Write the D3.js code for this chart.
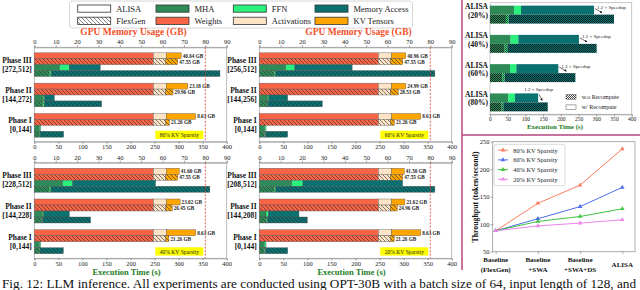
<!DOCTYPE html>
<html>
<head>
<meta charset="utf-8">
<script src="https://cdn.jsdelivr.net/npm/d3@7"></script>
<style>
  body { margin: 0; background: #fff; }
</style>
</head>
<body>
<div id="chart"></div>
<script>
//Data
const phaseNames = ["Phase III", "Phase II", "Phase I"];
const sparsity = ["80%", "60%", "40%", "20%"];
const phaseRanges = [
    ["[272,512]", "[144,272]", "[0,144]"],
    ["[256,512]", "[144,256]", "[0,144]"],
    ["[228,512]", "[144,228]", "[0,144]"],
    ["[208,512]", "[144,208]", "[0,144]"],
];
const memKeys = ["Weights", "Activations", "KV Tensors"];
const timeKeys = ["MHA", "FFN", "Memory Access"];

// GPU memory (GB) per phase III, II, I : [weights, activations, kv tensors]
const alisaMem = [
    [[55.7, 6.1, 6.9], [55.7, 6.1, 10.0], [55.7, 6.1, 13.7]],
    [[55.7, 6.1, 6.7], [55.7, 6.1, 6.7], [55.7, 6.1, 13.7]],
    [[55.7, 6.1, 6.0], [55.7, 6.1, 6.4], [55.7, 6.1, 13.7]],
    [[55.7, 6.1, 6.0], [55.7, 6.1, 6.3], [55.7, 6.1, 13.7]],
];
const flexMem = [
    [[55.7, 5.8, 5.6], [55.7, 5.8, 3.4], [55.7, 5.8, 1.7]],
    [[55.7, 5.8, 5.6], [55.7, 5.8, 3.5], [55.7, 5.8, 1.7]],
    [[55.7, 5.8, 5.6], [55.7, 5.8, 3.0], [55.7, 5.8, 1.5]],
    [[55.7, 5.8, 5.6], [55.7, 5.8, 3.0], [55.7, 5.8, 1.6]],
];
// execution time (s) per phase III, II, I : [MHA, FFN, memory access]
const alisaTime = [
    [[52.6, 20, 64.4], [18.7, 2.9, 20], [10.4, 2.9, 0]],
    [[55, 19, 119], [17.4, 2.6, 39], [11, 3, 0]],
    [[59, 21, 172], [16.6, 2.9, 53.3], [10.4, 2.9, 0]],
    [[67.3, 23.5, 207.2], [14, 4.8, 63.7], [10.4, 3.6, 0]],
];
const flexTime = [
    [[31, 4, 351], [17.3, 3.5, 119.2], [10, 2, 49]],
    [[30.5, 3.5, 331], [16, 2, 113], [11, 2, 46]],
    [[30.5, 4.2, 330.3], [15.3, 2.1, 99.6], [9.8, 2, 48.5]],
    [[30.5, 3.5, 331], [14, 2.6, 83.2], [10.4, 2.1, 46.5]],
];
const alisaLabels = [
    ["40.64 GB", "23.18 GB", "8.63 GB"],
    ["40.96 GB", "24.99 GB", "8.63 GB"],
    ["41.60 GB", "23.02 GB", "8.63 GB"],
    ["41.50 GB", "21.62 GB", "8.63 GB"],
];
const flexLabels = [
    ["47.55 GB", "29.96 GB", "21.26 GB"],
    ["47.55 GB", "28.53 GB", "21.26 GB"],
    ["47.55 GB", "26.45 GB", "21.26 GB"],
    ["47.55 GB", "24.96 GB", "21.26 GB"],
];

// recompute study (s): [MHA, FFN, memory access]
const recompNames = ["20%", "40%", "60%", "80%"];
const withRecomp = [[67.7, 19.8, 206], [58.3, 21.7, 171], [56.4, 17.9, 118.7], [51.8, 18.8, 65.4]];
const withoutRecomp = [[45, 7.8, 297.2], [41.4, 7.6, 252], [34.8, 6.6, 199.6], [33, 4.6, 125.4]];
const speedups = ["1.2", "1.2", "1.3", "1.2"];

// throughput (token/second)
const stages = ["Baseline\n(FlexGen)", "Baseline\n+SWA", "Baseline\n+SWA+DS", "ALISA"];
const tp80 = [88, 138, 171, 237];
const tp60 = [88, 110, 132, 167];
const tp40 = [88, 105, 114, 128];
const tp20 = [88, 97, 102, 108];

//Styles
const serif = "'Liberation Serif', 'Times New Roman', serif";
const fillOf = {
    Weights: "#fa6446",
    Activations: "#fde4c6",
    "KV Tensors": "#ffa500",
    MHA: "#2e8b57",
    FFN: "#2af07c",
    "Memory Access": "#0b7070",
};

const svg = d3
    .select("#chart")
    .append("svg")
    .attr("width", 640)
    .attr("height", 290)
    .attr("font-family", serif);
const defs = svg.append("defs");

const hatch = (id, fill) => {
    const p = defs
        .append("pattern")
        .attr("id", id)
        .attr("patternUnits", "userSpaceOnUse")
        .attr("width", 4)
        .attr("height", 4);
    p.append("rect").attr("width", 4).attr("height", 4).attr("fill", fill);
    p.append("path")
        .attr("d", "M-1,-1L5,5M-1,3L1,5M3,-1L5,1")
        .attr("stroke", "#2a2a2a")
        .attr("stroke-width", 0.6);
    return `url(#${id})`;
};
const dots = (id, fill) => {
    const p = defs
        .append("pattern")
        .attr("id", id)
        .attr("patternUnits", "userSpaceOnUse")
        .attr("width", 2)
        .attr("height", 2);
    p.append("rect").attr("width", 2).attr("height", 2).attr("fill", fill);
    p.append("rect").attr("width", 1).attr("height", 1).attr("fill", "#111").attr("opacity", 0.8);
    p.append("rect").attr("x", 1).attr("y", 1).attr("width", 1).attr("height", 1).attr("fill", "#111").attr("opacity", 0.8);
    return `url(#${id})`;
};
const hatchOf = {};
const dotsOf = {};
Object.keys(fillOf).forEach((k, i) => {
    hatchOf[k] = hatch(`h${i}`, fillOf[k]);
    dotsOf[k] = dots(`d${i}`, fillOf[k]);
});
const hatchWhite = hatch("hw", "#fff");
const dotsWhite = dots("dw", "#fff");

defs.append("marker")
    .attr("id", "arr")
    .attr("viewBox", "0 0 6 6")
    .attr("refX", 5)
    .attr("refY", 3)
    .attr("markerWidth", 4)
    .attr("markerHeight", 4)
    .attr("orient", "auto")
    .append("path")
    .attr("d", "M0,0L6,3L0,6Z")
    .attr("fill", "#111");

const styleAxis = (sel, size) => {
    sel.select(".domain").attr("stroke", "#999").attr("stroke-width", 0.8);
    sel.selectAll(".tick line").attr("stroke", "#666").attr("stroke-width", 0.6);
    sel.selectAll("text").attr("font-size", size).attr("font-family", serif).attr("fill", "#222");
};

//Legend
const legend = svg.append("g");
legend.append("rect")
    .attr("x", 69.5).attr("y", 1).attr("width", 343).attr("height", 27)
    .attr("rx", 3).attr("fill", "#fff").attr("stroke", "#ccc").attr("stroke-width", 0.8);
const legendItems = [
    ["ALISA", "#fff"], ["FlexGen", hatchWhite],
    ["MHA", fillOf.MHA], ["Weights", fillOf.Weights],
    ["FFN", fillOf.FFN], ["Activations", fillOf.Activations],
    ["Memory Access", fillOf["Memory Access"]], ["KV Tensors", fillOf["KV Tensors"]],
];
const legendCols = [77.7, 156, 233.3, 315];
legendItems.forEach(([name, fill], i) => {
    const x = legendCols[Math.floor(i / 2)];
    const y = i % 2 === 0 ? 8.6 : 20.8;
    legend.append("rect")
        .attr("x", x).attr("y", y - 3.6).attr("width", 33).attr("height", 7.2)
        .attr("fill", fill).attr("stroke", "#333").attr("stroke-width", 0.8);
    legend.append("text")
        .attr("x", x + 38.5).attr("y", y)
        .attr("dominant-baseline", "central")
        .attr("font-size", 8.5).attr("fill", "#222")
        .text(name);
});

//Bar panels
const panels = [
    { x0: 34.3, x1: 226.7, y0: 47.3, y1: 141.7, top: true },
    { x0: 259.3, x1: 451.7, y0: 47.3, y1: 141.7, top: true },
    { x0: 34.3, x1: 226.7, y0: 162.7, y1: 258.3, top: false },
    { x0: 259.3, x1: 451.7, y0: 162.7, y1: 258.3, top: false },
];

panels.forEach((P, i) => {
    const g = svg.append("g");
    const xMem = d3.scaleLinear().domain([0, 90]).range([P.x0, P.x1]);
    const xTime = d3.scaleLinear().domain([0, 400]).range([P.x0, P.x1]);
    const yPhase = d3
        .scaleBand()
        .domain(phaseNames)
        .range([P.y0 + 2.5, P.y1 - 1.5])
        .paddingInner(0.22)
        .paddingOuter(0.1);
    const ySub = d3
        .scaleBand()
        .domain(["aMem", "fMem", "aTime", "fTime"])
        .range([0, yPhase.bandwidth()]);

    g.append("rect")
        .attr("x", P.x0).attr("y", P.y0)
        .attr("width", P.x1 - P.x0).attr("height", P.y1 - P.y0)
        .attr("fill", "none").attr("stroke", "#aaa").attr("stroke-width", 0.8);

    const topAxis = g.append("g")
        .attr("transform", `translate(0, ${P.y0})`)
        .call(d3.axisTop(xMem).tickValues(d3.range(0, 91, 10)).tickSize(2).tickPadding(1.2));
    styleAxis(topAxis, 6.5);
    const botAxis = g.append("g")
        .attr("transform", `translate(0, ${P.y1})`)
        .call(d3.axisBottom(xTime).tickValues(d3.range(0, 401, 50)).tickSize(2).tickPadding(1));
    styleAxis(botAxis, 6.5);

    // memory and time rows
    const memRows = [];
    const timeRows = [];
    phaseNames.forEach((ph, k) => {
        const a = {}, f = {}, at = {}, ft = {};
        memKeys.forEach((key, j) => {
            a[key] = alisaMem[i][k][j];
            f[key] = flexMem[i][k][j];
        });
        timeKeys.forEach((key, j) => {
            at[key] = alisaTime[i][k][j];
            ft[key] = flexTime[i][k][j];
        });
        memRows.push({ phase: ph, sub: "aMem", ...a }, { phase: ph, sub: "fMem", ...f });
        timeRows.push({ phase: ph, sub: "aTime", ...at }, { phase: ph, sub: "fTime", ...ft });
    });

    const drawStack = (rows, keys, x) => {
        d3.stack().keys(keys)(rows).forEach((series) => {
            g.selectAll(null)
                .data(series.filter((d) => d[1] > d[0]))
                .join("rect")
                .attr("x", (d) => x(d[0]))
                .attr("width", (d) => x(d[1]) - x(d[0]))
                .attr("y", (d) => yPhase(d.data.phase) + ySub(d.data.sub))
                .attr("height", ySub.bandwidth())
                .attr("fill", (d) => (d.data.sub[0] === "f" ? hatchOf[series.key] : fillOf[series.key]))
                .attr("stroke", "#555")
                .attr("stroke-width", 0.4);
        });
    };
    drawStack(memRows, memKeys, xMem);
    drawStack(timeRows, timeKeys, xTime);

    // value labels
    memRows.forEach((r, j) => {
        const k = Math.floor(j / 2);
        const total = d3.sum(memKeys, (key) => r[key]);
        g.append("text")
            .attr("x", xMem(total) + 1.5)
            .attr("y", yPhase(r.phase) + ySub(r.sub) + ySub.bandwidth() / 2)
            .attr("dominant-baseline", "central")
            .attr("font-size", 5.2)
            .attr("font-weight", "bold")
            .attr("fill", "#222")
            .text(r.sub === "aMem" ? alisaLabels[i][k] : flexLabels[i][k]);
    });

    // phase labels
    phaseNames.forEach((ph, k) => {
        const c = yPhase(ph) + yPhase.bandwidth() / 2;
        const t = g.append("text")
            .attr("text-anchor", "end")
            .attr("font-size", 7.5)
            .attr("font-weight", "bold")
            .attr("fill", "#111");
        t.append("tspan").attr("x", P.x0 - 2.6).attr("y", c - 2).text(ph);
        t.append("tspan").attr("x", P.x0 - 2.6).attr("y", c + 7).text(phaseRanges[i][k]);
    });

    // GPU capacity line
    g.append("line")
        .attr("x1", xMem(80)).attr("x2", xMem(80))
        .attr("y1", P.y0).attr("y2", P.y1)
        .attr("stroke", "#e03a30").attr("stroke-width", 0.8)
        .attr("stroke-dasharray", "2,1.5");

    // sparsity tag
    g.append("rect")
        .attr("x", xMem(80) - 50).attr("y", P.y1 - 11)
        .attr("width", 48).attr("height", 8.3)
        .attr("fill", "#ffff00");
    g.append("text")
        .attr("x", xMem(80) - 26).attr("y", P.y1 - 6.8)
        .attr("text-anchor", "middle").attr("dominant-baseline", "central")
        .attr("font-size", 5.6).attr("fill", "#222")
        .text(`${sparsity[i]} KV Sparsity`);

    if (P.top) {
        g.append("text")
            .attr("x", (P.x0 + P.x1) / 2 + 3).attr("y", P.y0 - 15)
            .attr("dominant-baseline", "central")
            .attr("text-anchor", "middle")
            .attr("font-size", 9.5).attr("font-weight", "bold")
            .attr("fill", "#f4502a")
            .text("GPU Memory Usage (GB)");
    } else {
        g.append("text")
            .attr("x", (P.x0 + P.x1) / 2 - 4).attr("y", P.y1 + 14)
            .attr("dominant-baseline", "central")
            .attr("text-anchor", "middle")
            .attr("font-size", 8.5).attr("font-weight", "bold")
            .attr("fill", "#1e7d1e")
            .text("Execution Time (s)");
    }
});

//Dividers
svg.append("line")
    .attr("x1", 462).attr("x2", 462).attr("y1", 0).attr("y2", 270)
    .attr("stroke", "#b5467e").attr("stroke-width", 1.5);
svg.append("line")
    .attr("x1", 462).attr("x2", 640).attr("y1", 135).attr("y2", 135)
    .attr("stroke", "#b5467e").attr("stroke-width", 1.5);

//Recompute panel
const R = { x0: 490, x1: 631.7, y0: 2.7, y1: 114.3 };
const rg = svg.append("g");
const xR = d3.scaleLinear().domain([0, 400]).range([R.x0, R.x1]);
const yR = d3.scaleBand().domain(recompNames).range([R.y0, R.y1]).paddingInner(0.386).paddingOuter(0.1);
const yRSub = d3.scaleBand().domain(["w", "wo"]).range([0, yR.bandwidth()]);

rg.append("rect")
    .attr("x", R.x0).attr("y", R.y0)
    .attr("width", R.x1 - R.x0).attr("height", R.y1 - R.y0)
    .attr("fill", "none").attr("stroke", "#bbb").attr("stroke-width", 0.8);
const rAxis = rg.append("g")
    .attr("transform", `translate(0, ${R.y1})`)
    .call(d3.axisBottom(xR).tickValues(d3.range(0, 401, 50)).tickSize(2).tickPadding(1.2));
styleAxis(rAxis, 5.6);
rg.append("text")
    .attr("x", 555).attr("y", 127)
    .attr("dominant-baseline", "central").attr("text-anchor", "middle")
    .attr("font-size", 7).attr("font-weight", "bold").attr("fill", "#1e7d1e")
    .text("Execution Time (s)");

const recompRows = [];
recompNames.forEach((n, k) => {
    const w = { name: n, sub: "w" }, wo = { name: n, sub: "wo" };
    timeKeys.forEach((key, j) => {
        w[key] = withRecomp[k][j];
        wo[key] = withoutRecomp[k][j];
    });
    recompRows.push(w, wo);
});
d3.stack().keys(timeKeys)(recompRows).forEach((series) => {
    rg.selectAll(null)
        .data(series)
        .join("rect")
        .attr("x", (d) => xR(d[0]))
        .attr("width", (d) => xR(d[1]) - xR(d[0]))
        .attr("y", (d) => yR(d.data.name) + yRSub(d.data.sub))
        .attr("height", yRSub.bandwidth())
        .attr("fill", (d) => (d.data.sub === "wo" ? dotsOf[series.key] : fillOf[series.key]));
});

recompNames.forEach((n, k) => {
    const c = yR(n) + yR.bandwidth() / 2;
    const t = rg.append("text")
        .attr("text-anchor", "end").attr("font-size", 7.5)
        .attr("font-weight", "bold").attr("fill", "#111");
    t.append("tspan").attr("x", R.x0 - 2).attr("y", c - 5.5).text("ALISA");
    t.append("tspan").attr("x", R.x0 - 2).attr("y", c + 3).text(`(${n})`);

    const end = xR(d3.sum(withRecomp[k]));
    const top = yR(n);
    const last = k === recompNames.length - 1;
    rg.append("text")
        .attr("x", last ? end - 14 : end + 3)
        .attr("y", last ? top - 4 : top + 2)
        .attr("dominant-baseline", "central")
        .attr("font-size", 5).attr("fill", "#222")
        .text(`${speedups[k]} × Speedup`);
    rg.append("line")
        .attr("x1", end + 1).attr("y1", top + (last ? 1 : 3))
        .attr("x2", end + (last ? 4 : 8)).attr("y2", top + 7)
        .attr("stroke", "#111").attr("stroke-width", 0.6)
        .attr("marker-end", "url(#arr)");
});

[["w.o Recompute", dotsWhite, 96.8], ["w/ Recompute", "#fff", 107.3]].forEach(([name, fill, y]) => {
    rg.append("rect")
        .attr("x", 566).attr("y", y - 2.4).attr("width", 10).attr("height", 4.8)
        .attr("fill", fill).attr("stroke", "#555").attr("stroke-width", 0.5);
    rg.append("text")
        .attr("x", 581.7).attr("y", y)
        .attr("dominant-baseline", "central")
        .attr("font-size", 6).attr("fill", "#222")
        .text(name);
});

//Throughput panel
const L = { x0: 492.7, x1: 635, y0: 141.7, y1: 251.7 };
const lg = svg.append("g");
const xS = d3.scalePoint().domain(stages).range([495.7, 622.3]);
const yT = d3.scaleLinear().domain([50, 250]).range([L.y1, L.y0]);

lg.append("rect")
    .attr("x", L.x0).attr("y", L.y0)
    .attr("width", L.x1 - L.x0).attr("height", L.y1 - L.y0)
    .attr("fill", "none").attr("stroke", "#999").attr("stroke-width", 0.8);
const yAxisT = lg.append("g")
    .attr("transform", `translate(${L.x0}, 0)`)
    .call(d3.axisLeft(yT).tickValues(d3.range(50, 251, 50)).tickSize(2).tickPadding(1.2));
styleAxis(yAxisT, 6.5);
yAxisT.select(".domain").remove();

const xAxisT = lg.append("g")
    .attr("transform", `translate(0, ${L.y1})`)
    .call(d3.axisBottom(xS).tickSize(2).tickFormat(""));
xAxisT.select(".domain").remove();
xAxisT.selectAll(".tick line").attr("stroke", "#666").attr("stroke-width", 0.6);
stages.forEach((s) => {
    const parts = s.split("\n");
    const t = lg.append("text")
        .attr("text-anchor", "middle").attr("font-size", 7)
        .attr("font-weight", "bold").attr("fill", "#111");
    if (parts.length === 1) {
        t.append("tspan").attr("x", xS(s)).attr("y", 266.5).text(parts[0]);
    } else {
        t.append("tspan").attr("x", xS(s)).attr("y", 262.2).text(parts[0]);
        t.append("tspan").attr("x", xS(s)).attr("y", 272.2).text(parts[1]);
    }
});

lg.append("text")
    .attr("transform", "translate(475.5, 197) rotate(-90)")
    .attr("text-anchor", "middle").attr("dominant-baseline", "central")
    .attr("font-size", 7.8).attr("font-weight", "bold").attr("fill", "#111")
    .text("Throughput (token/second)");

const tpSeries = [
    ["80% KV Sparsity", tp80, "#fa7d5e"],
    ["60% KV Sparsity", tp60, "#4f6cec"],
    ["40% KV Sparsity", tp40, "#3fc43f"],
    ["20% KV Sparsity", tp20, "#ec85ec"],
];
const line = d3.line().x((d, i) => xS(stages[i])).y((d) => yT(d));
const tri = d3.symbol(d3.symbolTriangle, 9);
tpSeries.forEach(([name, vals, color]) => {
    lg.append("path")
        .attr("d", line(vals))
        .attr("fill", "none").attr("stroke", color).attr("stroke-width", 1);
    lg.selectAll(null)
        .data(vals)
        .join("path")
        .attr("d", tri)
        .attr("transform", (d, i) => `translate(${xS(stages[i])}, ${yT(d)})`)
        .attr("fill", color);
});

const tl = lg.append("g");
tl.append("rect")
    .attr("x", 494).attr("y", 144.3).attr("width", 71).attr("height", 41.4)
    .attr("rx", 2).attr("fill", "#fff").attr("stroke", "#ccc").attr("stroke-width", 0.7);
tpSeries.forEach(([name, vals, color], i) => {
    const y = 150.2 + i * 9.7;
    tl.append("line")
        .attr("x1", 498).attr("x2", 508).attr("y1", y).attr("y2", y)
        .attr("stroke", color).attr("stroke-width", 1);
    tl.append("path").attr("d", tri).attr("transform", `translate(503, ${y})`).attr("fill", color);
    tl.append("text")
        .attr("x", 513.3).attr("y", y)
        .attr("dominant-baseline", "central")
        .attr("font-size", 6.3).attr("fill", "#222")
        .text(name);
});

//Caption
svg.append("text")
    .attr("x", 2).attr("y", 287.5)
    .attr("font-size", 12).attr("fill", "#111")
    .attr("textLength", 634).attr("lengthAdjust", "spacingAndGlyphs")
    .text("Fig. 12: LLM inference. All experiments are conducted using OPT-30B with a batch size of 64, input length of 128, and");
</script>
</body>
</html>
